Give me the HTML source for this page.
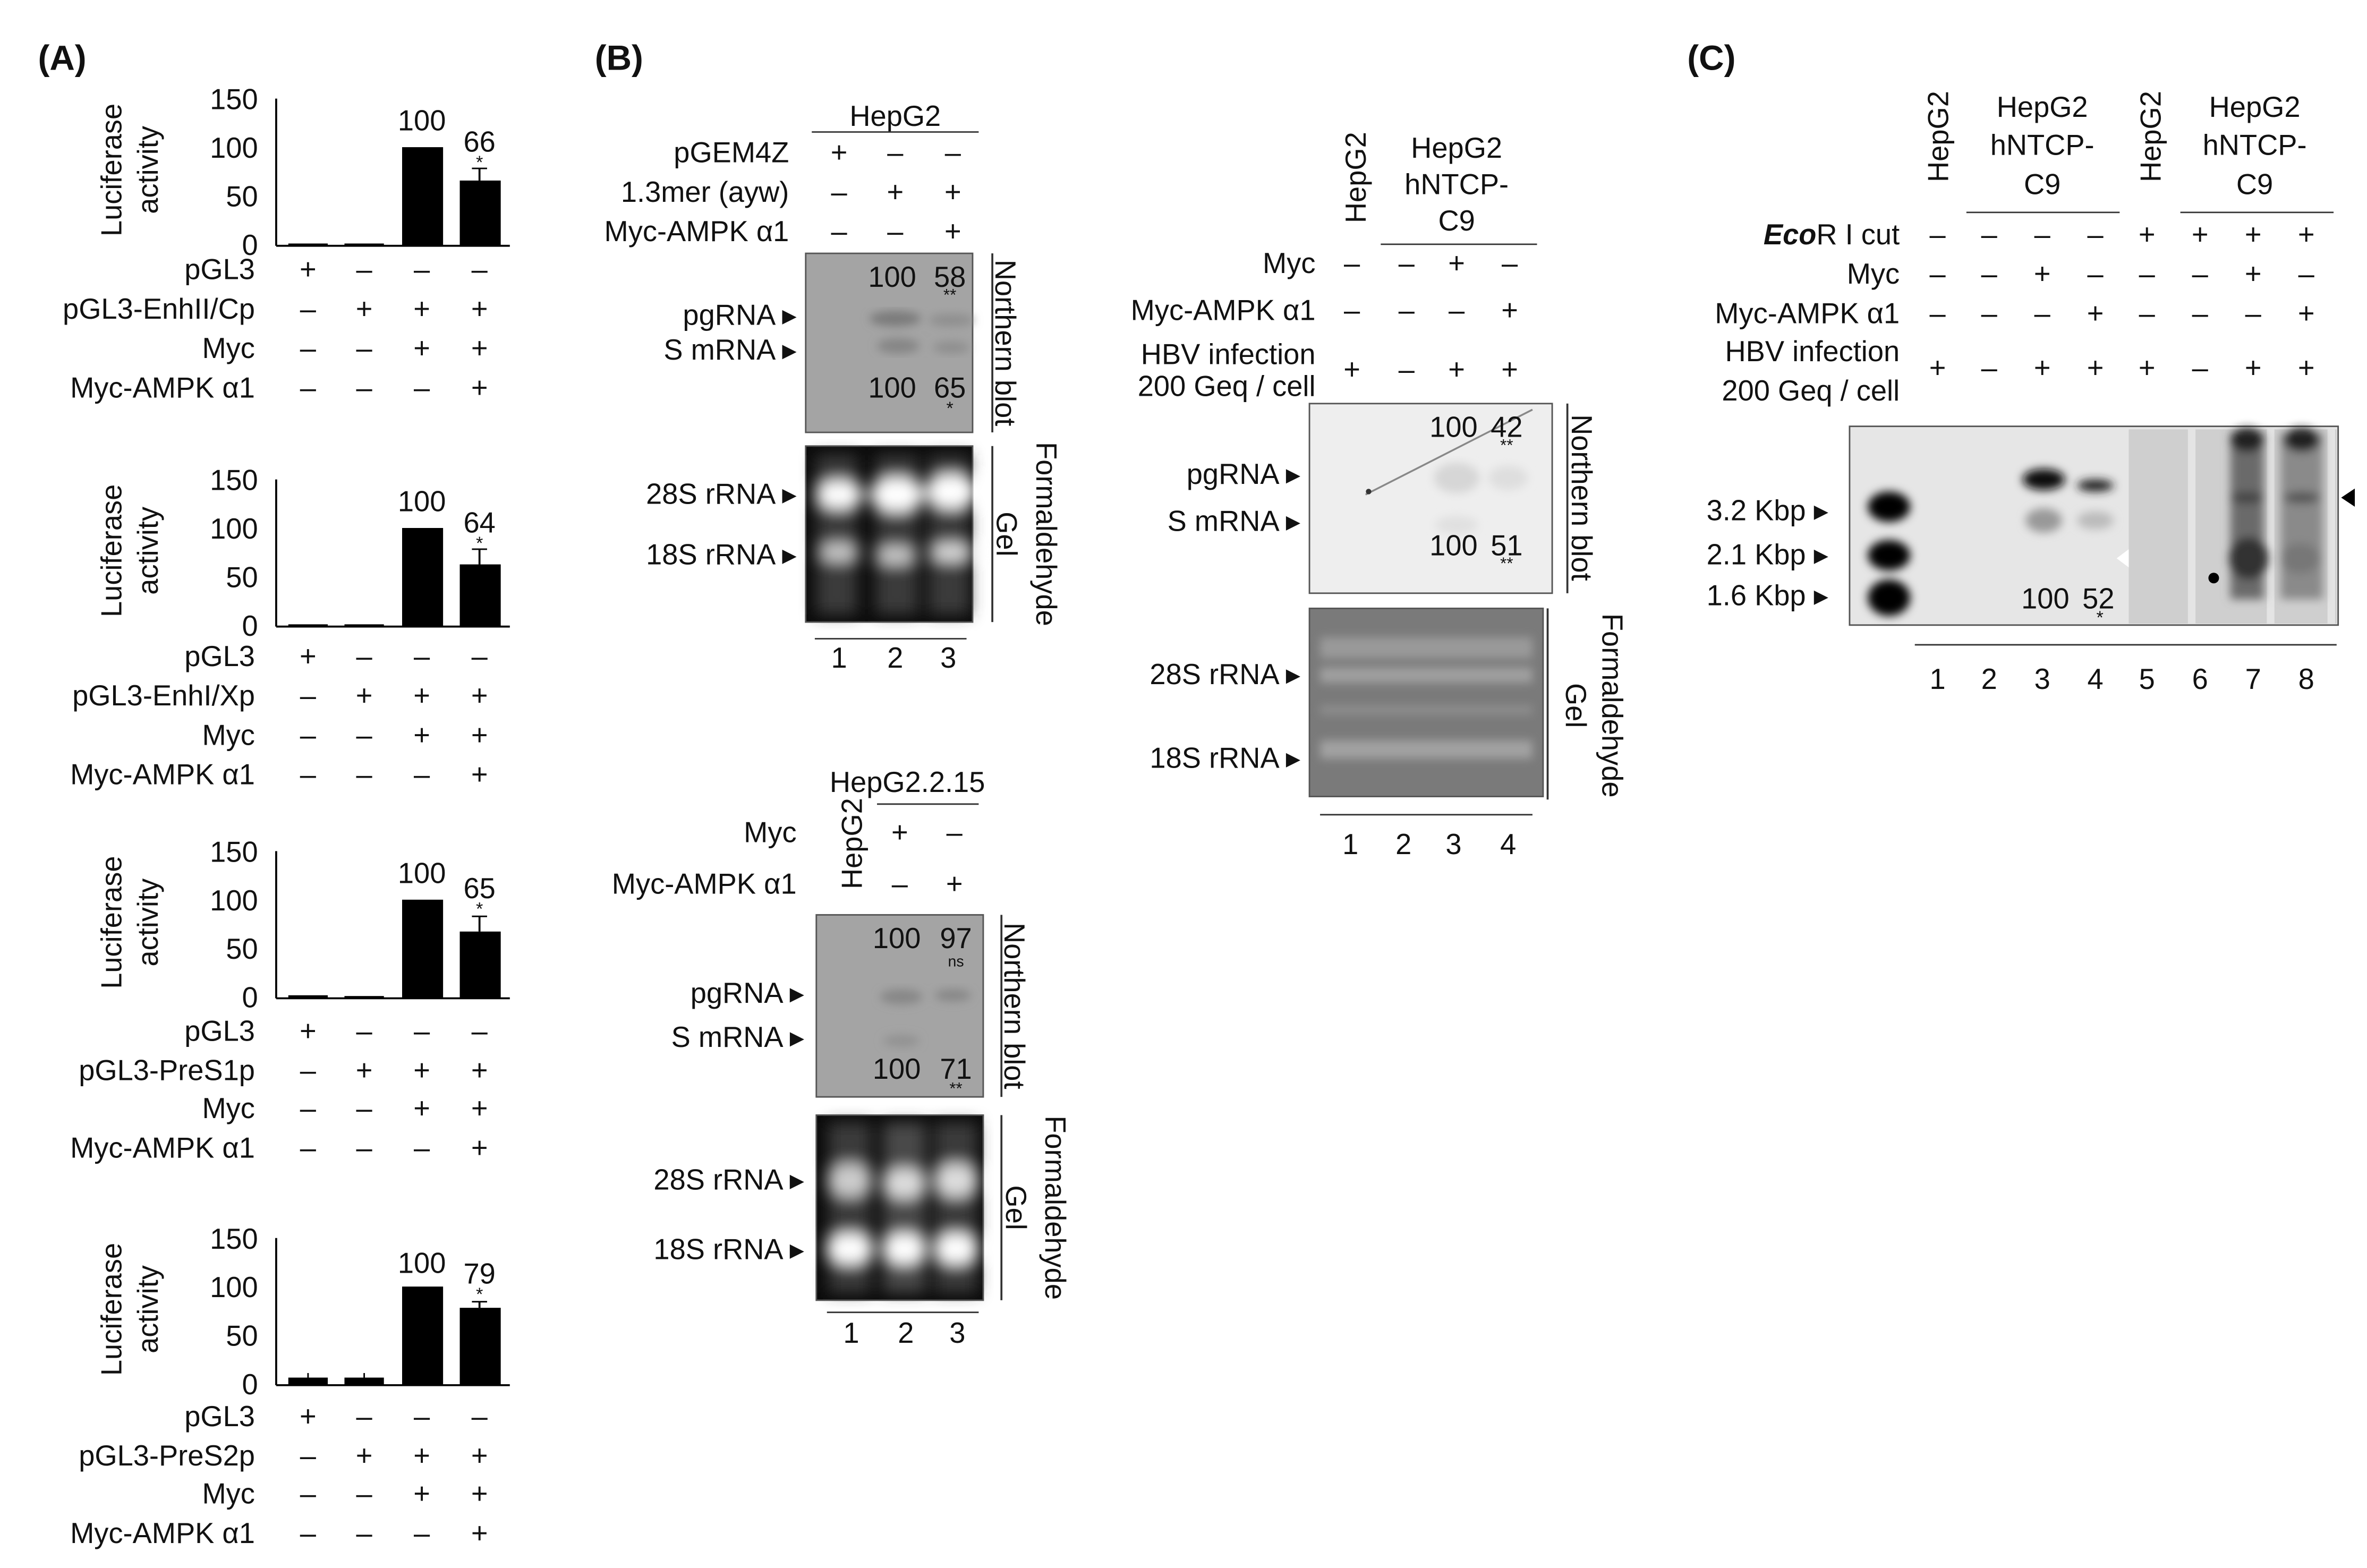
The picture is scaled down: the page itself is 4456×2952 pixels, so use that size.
<!DOCTYPE html>
<html><head><meta charset="utf-8"><style>
html,body{margin:0;padding:0;background:#fff}
svg{display:block}
text{font-family:"Liberation Sans",sans-serif;fill:#111}
</style></head><body>
<svg width="4456" height="2952" viewBox="0 0 1560 1033.5" xmlns="http://www.w3.org/2000/svg">
<defs>
<filter id="b3"><feGaussianBlur stdDeviation="3"/></filter>
<filter id="b5"><feGaussianBlur stdDeviation="5"/></filter>
<filter id="b2"><feGaussianBlur stdDeviation="1.5"/></filter>
</defs>
<g font-size="19">
<text x="25" y="46" font-size="23" font-weight="bold">(A)</text>
<text x="392" y="46" font-size="23" font-weight="bold">(B)</text>
<text x="1112" y="46" font-size="23" font-weight="bold">(C)</text>

<g transform="translate(0,162)">
<text transform="translate(80,-50) rotate(-90)" text-anchor="middle">Luciferase</text>
<text transform="translate(104,-50) rotate(-90)" text-anchor="middle">activity</text>
<g text-anchor="end"><text x="170" y="-90">150</text><text x="170" y="-58">100</text><text x="170" y="-26">50</text><text x="170" y="6">0</text></g>
<line x1="182" y1="-97" x2="182" y2="0" stroke="#000" stroke-width="1.3"/>
<line x1="182" y1="0" x2="336" y2="0" stroke="#000" stroke-width="1.3"/>
<rect x="190" y="-1.5" width="26" height="1.5"/><rect x="227" y="-1.5" width="26" height="1.5"/>
<rect x="265" y="-65" width="27" height="65"/><rect x="303" y="-43" width="27" height="43"/>
<line x1="316" y1="-51" x2="316" y2="-43" stroke="#000" stroke-width="1.3"/><line x1="311" y1="-51" x2="321" y2="-51" stroke="#000"/>
<text x="278" y="-76" text-anchor="middle">100</text><text x="316" y="-62" text-anchor="middle">66</text><text x="316" y="-51" text-anchor="middle" font-size="12">*</text>
<g text-anchor="end"><text x="168" y="22">pGL3</text><text x="168" y="48">pGL3-EnhII/Cp</text><text x="168" y="74">Myc</text><text x="168" y="100">Myc-AMPK α1</text></g>
<g text-anchor="middle"><text x="203" y="22">+</text><text x="240" y="22">–</text><text x="278" y="22">–</text><text x="316" y="22">–</text>
<text x="203" y="48">–</text><text x="240" y="48">+</text><text x="278" y="48">+</text><text x="316" y="48">+</text>
<text x="203" y="74">–</text><text x="240" y="74">–</text><text x="278" y="74">+</text><text x="316" y="74">+</text>
<text x="203" y="100">–</text><text x="240" y="100">–</text><text x="278" y="100">–</text><text x="316" y="100">+</text></g>
</g>
<g transform="translate(0,413)">
<text transform="translate(80,-50) rotate(-90)" text-anchor="middle">Luciferase</text>
<text transform="translate(104,-50) rotate(-90)" text-anchor="middle">activity</text>
<g text-anchor="end"><text x="170" y="-90">150</text><text x="170" y="-58">100</text><text x="170" y="-26">50</text><text x="170" y="6">0</text></g>
<line x1="182" y1="-97" x2="182" y2="0" stroke="#000" stroke-width="1.3"/>
<line x1="182" y1="0" x2="336" y2="0" stroke="#000" stroke-width="1.3"/>
<rect x="190" y="-1.5" width="26" height="1.5"/><rect x="227" y="-1.5" width="26" height="1.5"/>
<rect x="265" y="-65" width="27" height="65"/><rect x="303" y="-41" width="27" height="41"/>
<line x1="316" y1="-51" x2="316" y2="-41" stroke="#000" stroke-width="1.3"/><line x1="311" y1="-51" x2="321" y2="-51" stroke="#000"/>
<text x="278" y="-76" text-anchor="middle">100</text><text x="316" y="-62" text-anchor="middle">64</text><text x="316" y="-51" text-anchor="middle" font-size="12">*</text>
<g text-anchor="end"><text x="168" y="26">pGL3</text><text x="168" y="52">pGL3-EnhI/Xp</text><text x="168" y="78">Myc</text><text x="168" y="104">Myc-AMPK α1</text></g>
<g text-anchor="middle"><text x="203" y="26">+</text><text x="240" y="26">–</text><text x="278" y="26">–</text><text x="316" y="26">–</text>
<text x="203" y="52">–</text><text x="240" y="52">+</text><text x="278" y="52">+</text><text x="316" y="52">+</text>
<text x="203" y="78">–</text><text x="240" y="78">–</text><text x="278" y="78">+</text><text x="316" y="78">+</text>
<text x="203" y="104">–</text><text x="240" y="104">–</text><text x="278" y="104">–</text><text x="316" y="104">+</text></g>
</g>
<g transform="translate(0,658)">
<text transform="translate(80,-50) rotate(-90)" text-anchor="middle">Luciferase</text>
<text transform="translate(104,-50) rotate(-90)" text-anchor="middle">activity</text>
<g text-anchor="end"><text x="170" y="-90">150</text><text x="170" y="-58">100</text><text x="170" y="-26">50</text><text x="170" y="6">0</text></g>
<line x1="182" y1="-97" x2="182" y2="0" stroke="#000" stroke-width="1.3"/>
<line x1="182" y1="0" x2="336" y2="0" stroke="#000" stroke-width="1.3"/>
<rect x="190" y="-2" width="26" height="2"/><rect x="227" y="-1.5" width="26" height="1.5"/>
<rect x="265" y="-65" width="27" height="65"/><rect x="303" y="-44" width="27" height="44"/>
<line x1="316" y1="-54" x2="316" y2="-44" stroke="#000" stroke-width="1.3"/><line x1="311" y1="-54" x2="321" y2="-54" stroke="#000"/>
<text x="278" y="-76" text-anchor="middle">100</text><text x="316" y="-66" text-anchor="middle">65</text><text x="316" y="-55" text-anchor="middle" font-size="12">*</text>
<g text-anchor="end"><text x="168" y="28">pGL3</text><text x="168" y="54">pGL3-PreS1p</text><text x="168" y="79">Myc</text><text x="168" y="105">Myc-AMPK α1</text></g>
<g text-anchor="middle"><text x="203" y="28">+</text><text x="240" y="28">–</text><text x="278" y="28">–</text><text x="316" y="28">–</text>
<text x="203" y="54">–</text><text x="240" y="54">+</text><text x="278" y="54">+</text><text x="316" y="54">+</text>
<text x="203" y="79">–</text><text x="240" y="79">–</text><text x="278" y="79">+</text><text x="316" y="79">+</text>
<text x="203" y="105">–</text><text x="240" y="105">–</text><text x="278" y="105">–</text><text x="316" y="105">+</text></g>
</g>
<g transform="translate(0,913)">
<text transform="translate(80,-50) rotate(-90)" text-anchor="middle">Luciferase</text>
<text transform="translate(104,-50) rotate(-90)" text-anchor="middle">activity</text>
<g text-anchor="end"><text x="170" y="-90">150</text><text x="170" y="-58">100</text><text x="170" y="-26">50</text><text x="170" y="6">0</text></g>
<line x1="182" y1="-97" x2="182" y2="0" stroke="#000" stroke-width="1.3"/>
<line x1="182" y1="0" x2="336" y2="0" stroke="#000" stroke-width="1.3"/>
<rect x="190" y="-5" width="26" height="5"/><rect x="227" y="-5" width="26" height="5"/>
<line x1="203" y1="-8" x2="203" y2="-5" stroke="#000"/><line x1="240" y1="-8" x2="240" y2="-5" stroke="#000"/>
<rect x="265" y="-65" width="27" height="65"/><rect x="303" y="-51" width="27" height="51"/>
<line x1="316" y1="-55" x2="316" y2="-51" stroke="#000" stroke-width="1.3"/><line x1="311" y1="-55" x2="321" y2="-55" stroke="#000"/>
<text x="278" y="-74" text-anchor="middle">100</text><text x="316" y="-67" text-anchor="middle">79</text><text x="316" y="-56" text-anchor="middle" font-size="12">*</text>
<g text-anchor="end"><text x="168" y="27">pGL3</text><text x="168" y="53">pGL3-PreS2p</text><text x="168" y="78">Myc</text><text x="168" y="104">Myc-AMPK α1</text></g>
<g text-anchor="middle"><text x="203" y="27">+</text><text x="240" y="27">–</text><text x="278" y="27">–</text><text x="316" y="27">–</text>
<text x="203" y="53">–</text><text x="240" y="53">+</text><text x="278" y="53">+</text><text x="316" y="53">+</text>
<text x="203" y="78">–</text><text x="240" y="78">–</text><text x="278" y="78">+</text><text x="316" y="78">+</text>
<text x="203" y="104">–</text><text x="240" y="104">–</text><text x="278" y="104">–</text><text x="316" y="104">+</text></g>
</g>

<!-- Panel B top -->
<text x="590" y="83" text-anchor="middle">HepG2</text>
<line x1="535" y1="87" x2="645" y2="87" stroke="#333"/>
<g text-anchor="end"><text x="520" y="107">pGEM4Z</text><text x="520" y="133">1.3mer (ayw)</text><text x="520" y="159">Myc-AMPK α1</text></g>
<g text-anchor="middle"><text x="553" y="107">+</text><text x="590" y="107">–</text><text x="628" y="107">–</text>
<text x="553" y="133">–</text><text x="590" y="133">+</text><text x="628" y="133">+</text>
<text x="553" y="159">–</text><text x="590" y="159">–</text><text x="628" y="159">+</text></g>
<rect x="531" y="167" width="110" height="118" fill="#a4a4a4" stroke="#555"/>
<g filter="url(#b3)" fill="#7a7a7a"><ellipse cx="590" cy="210" rx="17" ry="5"/><ellipse cx="627" cy="211" rx="15" ry="4" fill="#8e8e8e"/><ellipse cx="592" cy="228" rx="14" ry="5" fill="#858585"/><ellipse cx="627" cy="229" rx="12" ry="4" fill="#8e8e8e"/></g>
<g text-anchor="middle"><text x="588" y="189">100</text><text x="626" y="189">58</text><text x="626" y="198" font-size="11">**</text>
<text x="588" y="262">100</text><text x="626" y="262">65</text><text x="626" y="273" font-size="12">*</text></g>
<g text-anchor="end"><text x="525" y="214">pgRNA ▸</text><text x="525" y="237">S mRNA ▸</text><text x="525" y="332">28S rRNA ▸</text><text x="525" y="372">18S rRNA ▸</text></g>
<line x1="654" y1="167" x2="654" y2="285" stroke="#333" stroke-width="1.3"/>
<text transform="translate(656,226) rotate(90)" text-anchor="middle">Northern blot</text>
<rect x="531" y="294" width="110" height="116" fill="#0a0a0a" stroke="#555"/>
<g filter="url(#b5)"><rect x="538" y="300" width="27" height="105" fill="#3a3a3a"/><rect x="577" y="300" width="28" height="105" fill="#3a3a3a"/><rect x="612" y="300" width="27" height="105" fill="#3a3a3a"/>
<ellipse cx="553" cy="326" rx="16" ry="9" fill="#fff"/><ellipse cx="591" cy="326" rx="18" ry="11" fill="#fff"/><ellipse cx="627" cy="324" rx="17" ry="11" fill="#fff"/>
<ellipse cx="553" cy="364" rx="14" ry="6" fill="#ccc"/><ellipse cx="590" cy="366" rx="14" ry="6" fill="#ccc"/><ellipse cx="627" cy="364" rx="15" ry="6" fill="#ddd"/></g>
<line x1="654" y1="294" x2="654" y2="410" stroke="#333" stroke-width="1.3"/>
<text transform="translate(657,352) rotate(90)" text-anchor="middle">Gel</text>
<text transform="translate(683,352) rotate(90)" text-anchor="middle">Formaldehyde</text>
<line x1="537" y1="421" x2="637" y2="421" stroke="#333"/>
<g text-anchor="middle"><text x="553" y="440">1</text><text x="590" y="440">2</text><text x="625" y="440">3</text></g>

<!-- Panel B bottom -->
<text x="598" y="522" text-anchor="middle">HepG2.2.15</text>
<line x1="578" y1="530" x2="645" y2="530" stroke="#333"/>
<text transform="translate(568,556) rotate(-90)" text-anchor="middle">HepG2</text>
<g text-anchor="end"><text x="525" y="555">Myc</text><text x="525" y="589">Myc-AMPK α1</text><text x="530" y="661">pgRNA ▸</text><text x="530" y="690">S mRNA ▸</text><text x="530" y="784">28S rRNA ▸</text><text x="530" y="830">18S rRNA ▸</text></g>
<g text-anchor="middle"><text x="593" y="555">+</text><text x="629" y="555">–</text><text x="593" y="589">–</text><text x="629" y="589">+</text></g>
<rect x="538" y="603" width="110" height="120" fill="#a4a4a4" stroke="#555"/>
<g filter="url(#b3)" fill="#878787"><ellipse cx="594" cy="657" rx="14" ry="5"/><ellipse cx="628" cy="656" rx="12" ry="4"/><ellipse cx="594" cy="686" rx="12" ry="4" fill="#929292"/></g>
<g text-anchor="middle"><text x="591" y="625">100</text><text x="630" y="625">97</text><text x="630" y="637" font-size="10">ns</text>
<text x="591" y="711">100</text><text x="630" y="711">71</text><text x="630" y="721" font-size="11">**</text></g>
<line x1="660" y1="603" x2="660" y2="723" stroke="#333" stroke-width="1.3"/>
<text transform="translate(662,663) rotate(90)" text-anchor="middle">Northern blot</text>
<rect x="538" y="735" width="110" height="122" fill="#0a0a0a" stroke="#555"/>
<g filter="url(#b5)"><rect x="546" y="740" width="28" height="112" fill="#3a3a3a"/><rect x="582" y="740" width="28" height="112" fill="#4a4a4a"/><rect x="616" y="740" width="28" height="112" fill="#3a3a3a"/>
<ellipse cx="560" cy="778" rx="15" ry="11" fill="#ccc"/><ellipse cx="596" cy="780" rx="15" ry="10" fill="#ddd"/><ellipse cx="630" cy="778" rx="15" ry="11" fill="#ddd"/>
<ellipse cx="560" cy="823" rx="16" ry="10" fill="#fff"/><ellipse cx="596" cy="823" rx="15" ry="10" fill="#fff"/><ellipse cx="630" cy="823" rx="15" ry="10" fill="#fff"/></g>
<line x1="660" y1="735" x2="660" y2="857" stroke="#333" stroke-width="1.3"/>
<text transform="translate(663,796) rotate(90)" text-anchor="middle">Gel</text>
<text transform="translate(689,796) rotate(90)" text-anchor="middle">Formaldehyde</text>
<line x1="545" y1="865" x2="645" y2="865" stroke="#333"/>
<g text-anchor="middle"><text x="561" y="885">1</text><text x="597" y="885">2</text><text x="631" y="885">3</text></g>

<!-- Panel B middle -->
<text transform="translate(900,117) rotate(-90)" text-anchor="middle">HepG2</text>
<g text-anchor="middle"><text x="960" y="104">HepG2</text><text x="960" y="128">hNTCP-</text><text x="960" y="152">C9</text></g>
<line x1="910" y1="161" x2="1013" y2="161" stroke="#333"/>
<g text-anchor="end"><text x="867" y="180">Myc</text><text x="867" y="211">Myc-AMPK α1</text><text x="867" y="240">HBV infection</text><text x="867" y="261">200 Geq / cell</text>
<text x="857" y="319">pgRNA ▸</text><text x="857" y="350">S mRNA ▸</text><text x="857" y="451">28S rRNA ▸</text><text x="857" y="506">18S rRNA ▸</text></g>
<g text-anchor="middle"><text x="891" y="180">–</text><text x="927" y="180">–</text><text x="960" y="180">+</text><text x="995" y="180">–</text>
<text x="891" y="211">–</text><text x="927" y="211">–</text><text x="960" y="211">–</text><text x="995" y="211">+</text>
<text x="891" y="250">+</text><text x="927" y="250">–</text><text x="960" y="250">+</text><text x="995" y="250">+</text></g>
<rect x="863" y="266" width="160" height="125" fill="#eeeeee" stroke="#555"/>
<g filter="url(#b3)" fill="#d6d6d6"><ellipse cx="960" cy="315" rx="15" ry="10"/><ellipse cx="994" cy="315" rx="13" ry="8" fill="#dedede"/><ellipse cx="960" cy="346" rx="14" ry="6" fill="#e0e0e0"/></g>
<line x1="900" y1="326" x2="1010" y2="270" stroke="#888" stroke-width="1.2"/>
<circle cx="902" cy="324" r="1.8" fill="#333"/>
<g text-anchor="middle"><text x="958" y="288">100</text><text x="993" y="288">42</text><text x="993" y="297" font-size="11">**</text>
<text x="958" y="366">100</text><text x="993" y="366">51</text><text x="993" y="375" font-size="11">**</text></g>
<line x1="1033" y1="266" x2="1033" y2="391" stroke="#333" stroke-width="1.3"/>
<text transform="translate(1036,328) rotate(90)" text-anchor="middle">Northern blot</text>
<rect x="863" y="401" width="154" height="124" fill="#7a7a7a" stroke="#555"/>
<g filter="url(#b3)" fill="#9a9a9a"><rect x="870" y="420" width="140" height="14"/><rect x="870" y="440" width="140" height="10" fill="#a0a0a0"/><rect x="870" y="488" width="140" height="12" fill="#a2a2a2"/><rect x="870" y="465" width="140" height="6" fill="#8e8e8e"/></g>
<line x1="1020" y1="401" x2="1020" y2="527" stroke="#333" stroke-width="1.3"/>
<text transform="translate(1032,465) rotate(90)" text-anchor="middle">Gel</text>
<text transform="translate(1056,465) rotate(90)" text-anchor="middle">Formaldehyde</text>
<line x1="870" y1="537" x2="1010" y2="537" stroke="#333"/>
<g text-anchor="middle"><text x="890" y="563">1</text><text x="925" y="563">2</text><text x="958" y="563">3</text><text x="994" y="563">4</text></g>

<!-- Panel C -->
<text transform="translate(1284,90) rotate(-90)" text-anchor="middle">HepG2</text>
<text transform="translate(1424,90) rotate(-90)" text-anchor="middle">HepG2</text>
<g text-anchor="middle"><text x="1346" y="77">HepG2</text><text x="1346" y="102">hNTCP-</text><text x="1346" y="128">C9</text>
<text x="1486" y="77">HepG2</text><text x="1486" y="102">hNTCP-</text><text x="1486" y="128">C9</text></g>
<line x1="1296" y1="140" x2="1397" y2="140" stroke="#333"/><line x1="1437" y1="140" x2="1538" y2="140" stroke="#333"/>
<g text-anchor="end"><text x="1252" y="161"><tspan font-weight="bold" font-style="italic">Eco</tspan>R I cut</text><text x="1252" y="187">Myc</text><text x="1252" y="213">Myc-AMPK α1</text><text x="1252" y="238">HBV infection</text><text x="1252" y="264">200 Geq / cell</text>
<text x="1205" y="343">3.2 Kbp ▸</text><text x="1205" y="372">2.1 Kbp ▸</text><text x="1205" y="399">1.6 Kbp ▸</text></g>
<g text-anchor="middle">
<text x="1277" y="161">–</text><text x="1311" y="161">–</text><text x="1346" y="161">–</text><text x="1381" y="161">–</text><text x="1415" y="161">+</text><text x="1450" y="161">+</text><text x="1485" y="161">+</text><text x="1520" y="161">+</text>
<text x="1277" y="187">–</text><text x="1311" y="187">–</text><text x="1346" y="187">+</text><text x="1381" y="187">–</text><text x="1415" y="187">–</text><text x="1450" y="187">–</text><text x="1485" y="187">+</text><text x="1520" y="187">–</text>
<text x="1277" y="213">–</text><text x="1311" y="213">–</text><text x="1346" y="213">–</text><text x="1381" y="213">+</text><text x="1415" y="213">–</text><text x="1450" y="213">–</text><text x="1485" y="213">–</text><text x="1520" y="213">+</text>
<text x="1277" y="249">+</text><text x="1311" y="249">–</text><text x="1346" y="249">+</text><text x="1381" y="249">+</text><text x="1415" y="249">+</text><text x="1450" y="249">–</text><text x="1485" y="249">+</text><text x="1520" y="249">+</text>
</g>
<rect x="1219" y="281" width="322" height="131" fill="#e6e6e6" stroke="#555"/>
<rect x="1403" y="283" width="137" height="128" fill="#cfcfcf"/>
<rect x="1442" y="283" width="5" height="128" fill="#e4e4e4"/><rect x="1494" y="283" width="5" height="128" fill="#e4e4e4"/><rect x="1534" y="283" width="5" height="128" fill="#e4e4e4"/>
<g filter="url(#b3)">
<ellipse cx="1245" cy="334" rx="14" ry="10" fill="#000"/><ellipse cx="1245" cy="366" rx="14" ry="10" fill="#000"/><ellipse cx="1245" cy="394" rx="14" ry="12" fill="#000"/>
<ellipse cx="1347" cy="316" rx="14" ry="7" fill="#111"/><ellipse cx="1381" cy="320" rx="12" ry="4" fill="#222"/>
<ellipse cx="1347" cy="343" rx="12" ry="8" fill="#999"/><ellipse cx="1381" cy="343" rx="12" ry="6" fill="#bbb"/>
<rect x="1470" y="285" width="22" height="110" fill="#6a6a6a"/><rect x="1503" y="285" width="28" height="110" fill="#8a8a8a"/>
<ellipse cx="1482" cy="368" rx="13" ry="14" fill="#333"/><ellipse cx="1516" cy="368" rx="13" ry="10" fill="#777"/>
<ellipse cx="1481" cy="290" rx="11" ry="8" fill="#222"/><ellipse cx="1517" cy="290" rx="12" ry="8" fill="#222"/>
<ellipse cx="1481" cy="328" rx="11" ry="4" fill="#444"/><ellipse cx="1517" cy="328" rx="12" ry="4" fill="#555"/>
</g>
<circle cx="1459" cy="381" r="3.5" fill="#000"/>
<polygon points="1395,368 1403,362 1403,374" fill="#fff"/>
<polygon points="1543,328 1552,322 1552,334" fill="#000"/>
<g text-anchor="middle"><text x="1348" y="401">100</text><text x="1383" y="401">52</text><text x="1384" y="411" font-size="12">*</text></g>
<line x1="1262" y1="425" x2="1540" y2="425" stroke="#333"/>
<g text-anchor="middle"><text x="1277" y="454">1</text><text x="1311" y="454">2</text><text x="1346" y="454">3</text><text x="1381" y="454">4</text><text x="1415" y="454">5</text><text x="1450" y="454">6</text><text x="1485" y="454">7</text><text x="1520" y="454">8</text></g>
</g>
</svg>
</body></html>
